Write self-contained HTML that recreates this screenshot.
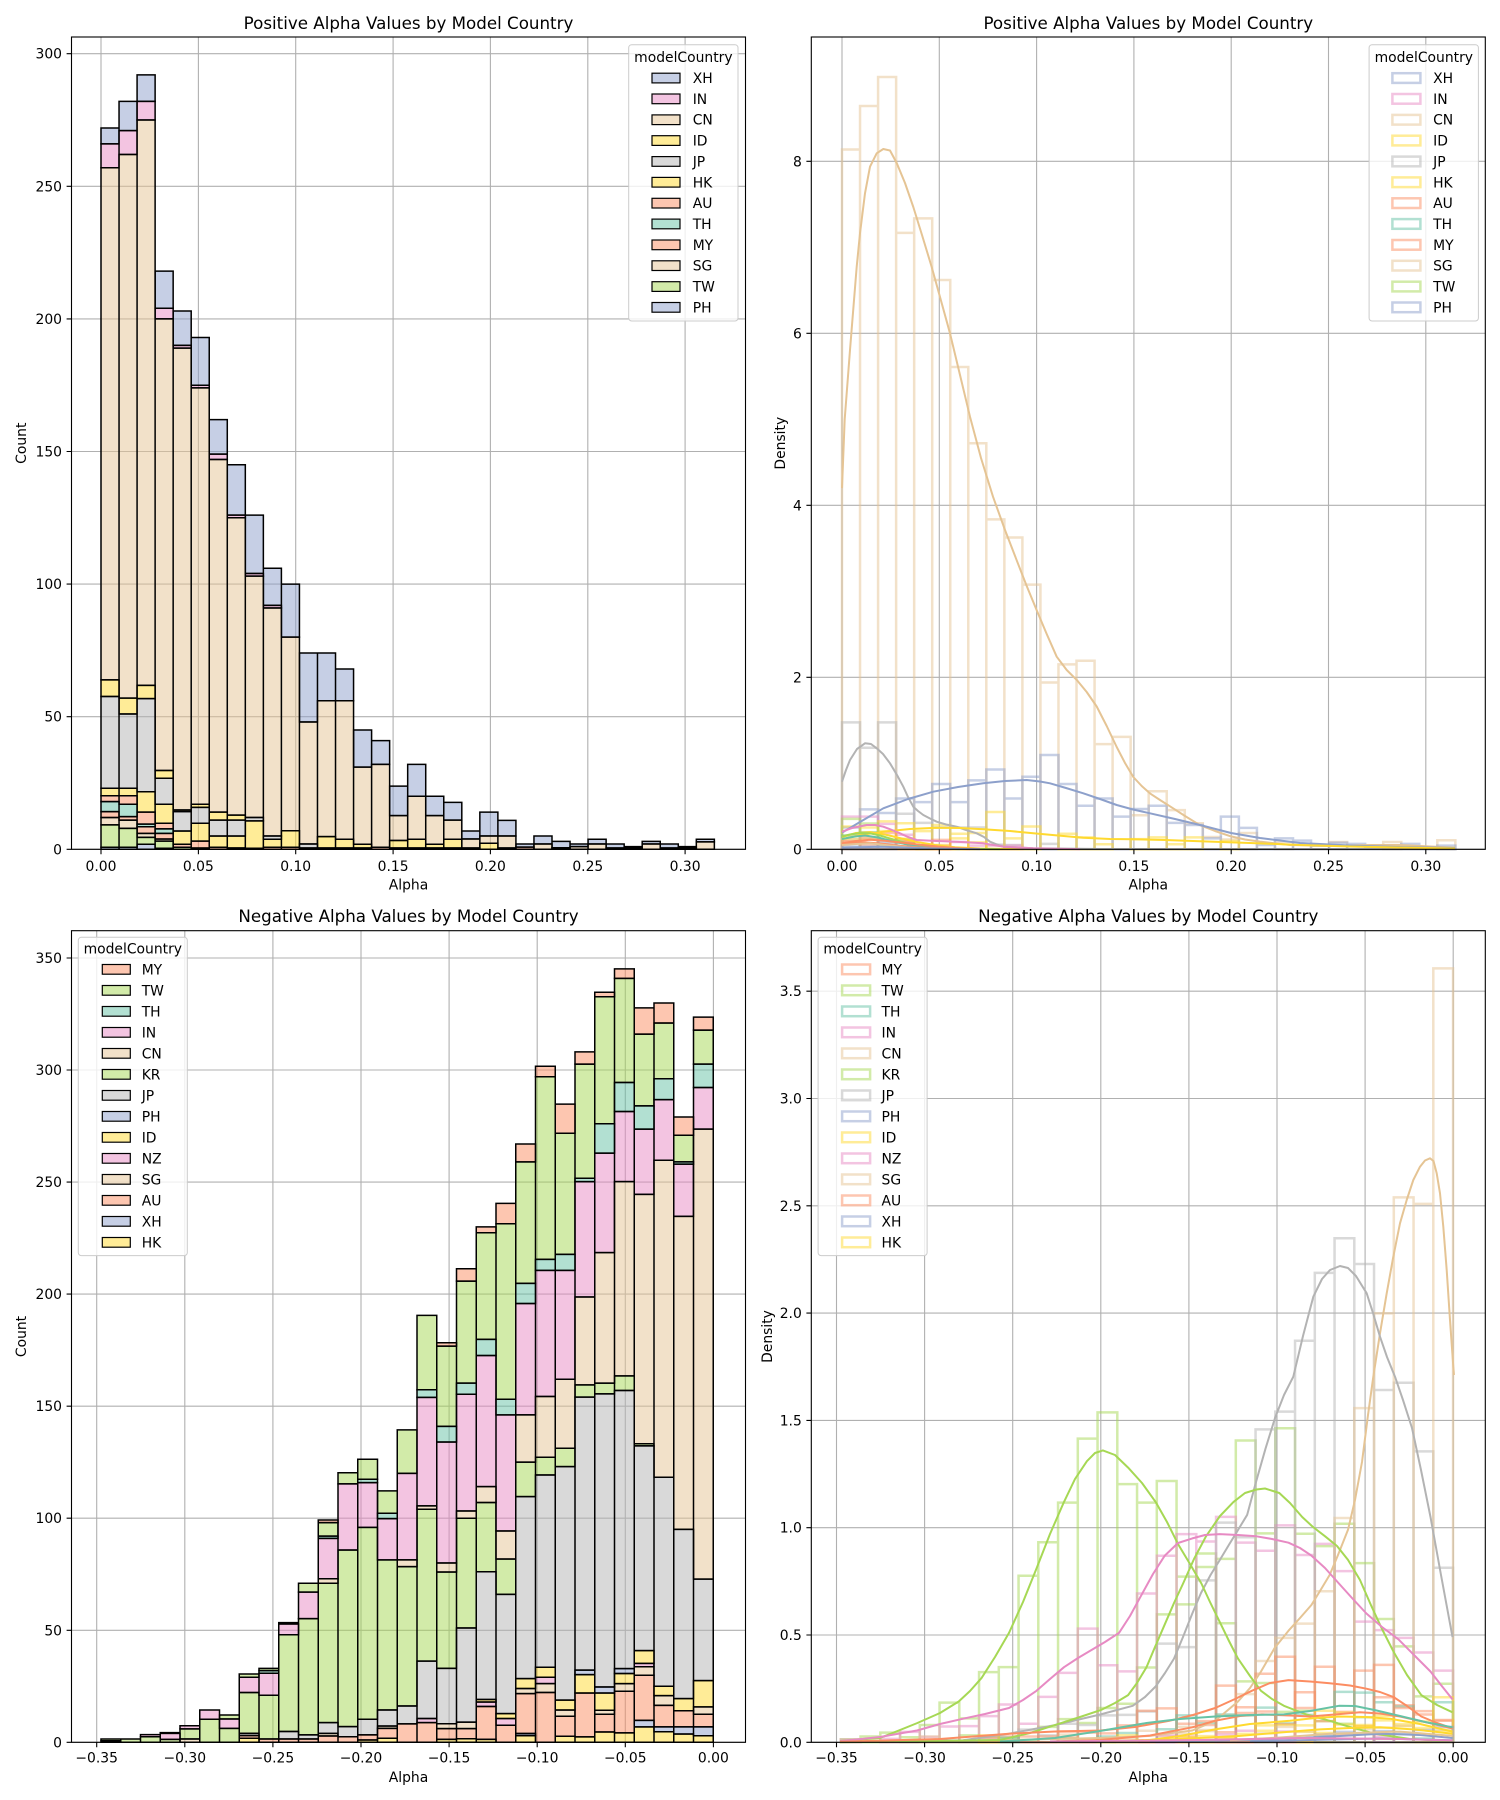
<!DOCTYPE html>
<html><head><meta charset="utf-8"><style>
html,body{margin:0;padding:0;background:#fff}
svg{display:block}
text{font-family:"DejaVu Sans","Liberation Sans",sans-serif;fill:#000}
.tk{font-size:13.9px}
.tt{font-size:16.7px}
.st path{stroke:#000;stroke-width:1.5px;fill-opacity:.5;vector-effect:non-scaling-stroke}
.ol path{fill:none;stroke-width:2.5px;stroke-opacity:.5;vector-effect:non-scaling-stroke}
.kd polyline{fill:none;stroke-width:2px;stroke-linejoin:round}
.gr{stroke:#b0b0b0;stroke-width:1.1px;fill:none}
.tm{stroke:#000;stroke-width:1.1px;fill:none}
.sp{stroke:#000;stroke-width:1.1px;fill:none}
.lg{fill:#fff;fill-opacity:.8;stroke:#cccccc;stroke-width:1}
.lp{fill-opacity:.5;stroke:#000;stroke-width:1.2}
.lo{fill:none;stroke-width:2.5;stroke-opacity:.5}
</style></head><body>
<svg width="1500" height="1800" viewBox="0 0 1500 1800" xmlns="http://www.w3.org/2000/svg">
<rect width="1500" height="1800" fill="#fff"/>

<!-- ================= TOP LEFT ================= -->
<path class="gr" d="M101 37V849.3M198.4 37V849.3M295.7 37V849.3M393.1 37V849.3M490.4 37V849.3M587.8 37V849.3M685.1 37V849.3M71.5 849.3H745.5M71.5 716.7H745.5M71.5 584.1H745.5M71.5 451.5H745.5M71.5 318.9H745.5M71.5 186.3H745.5M71.5 53.7H745.5"/>
<g class="st" transform="translate(101 849.3) scale(18.04 -2.652)">
<path fill="#8da0cb" d="M0 0h1v.75h-1z M0 266h1v6h-1z M1 0h1v.75h-1z M1 271h1v11h-1z M2 0h1v1.9h-1z M2 282h1v10h-1z M3 0h1v.4h-1z M3 204h1v14h-1z M4 190h1v13h-1z M5 0h1v.5h-1z M5 175h1v18h-1z M6 149h1v13h-1z M7 126h1v19h-1z M8 104h1v22h-1z M9 92h1v14h-1z M10 80h1v20h-1z M11 48h1v26h-1z M12 56h1v18h-1z M13 56h1v12h-1z M14 31h1v14h-1z M15 32h1v9h-1z M16 12.7h1v11.1h-1z M17 20h1v12h-1z M18 12.7h1v7.3h-1z M19 11h1v6.7h-1z M20 3.9h1v3h-1z M21 5h1v9h-1z M22 5h1v5.9h-1z M23 .8h1v1.2h-1z M24 2h1v3h-1z M25 .6h1v2.4h-1z M26 1h1v1h-1z M27 2h1v1.8h-1z M28 .5h1v1.5h-1z M29 .5h1v.5h-1z M30 2h1v1h-1z M31 .5h1v1.5h-1z M32 .5h1v.5h-1z M33 2.8h1v1h-1z"/>
<path fill="#e78ac3" d="M0 257h1v9h-1z M1 262h1v9h-1z M2 275h1v7h-1z M3 200h1v4h-1z M4 189h1v1h-1z M5 174h1v1h-1z M6 147h1v2h-1z M7 125h1v1h-1z M8 103h1v1h-1z M9 91h1v1h-1z"/>
<path fill="#e5c494" d="M0 9.2h1v2.8h-1z M0 63.9h1v193.1h-1z M1 7.9h1v3.1h-1z M1 57h1v205h-1z M2 4.5h1v1.5h-1z M2 61.8h1v213.2h-1z M3 3.1h1v.8h-1z M3 29.7h1v170.3h-1z M4 14.8h1v174.2h-1z M5 17h1v157h-1z M6 14h1v133h-1z M7 12.9h1v112.1h-1z M8 12h1v91h-1z M9 5h1v86h-1z M10 7h1v73h-1z M11 2h1v46h-1z M12 4.8h1v51.2h-1z M13 3.8h1v52.2h-1z M14 1.9h1v29.1h-1z M15 .75h1v31.25h-1z M16 3.3h1v9.4h-1z M17 3.8h1v16.2h-1z M18 1.9h1v10.8h-1z M19 3.8h1v7.2h-1z M20 .5h1v3.4h-1z M21 2.3h1v2.7h-1z M22 .5h1v4.5h-1z M24 0h1v2h-1z M26 0h1v1h-1z M27 0h1v2h-1z M30 0h1v2h-1z M33 0h1v2.8h-1z"/>
<path fill="#ffd92f" d="M0 20.2h1v2.8h-1z M0 57.6h1v6.3h-1z M1 20.2h1v2.8h-1z M1 51h1v6h-1z M2 14h1v7.7h-1z M2 56.8h1v5h-1z M3 9.8h1v7.2h-1z M3 26.8h1v2.9h-1z M4 1.9h1v5h-1z M4 14.2h1v.6h-1z M5 3.1h1v6.7h-1z M5 15.8h1v1.2h-1z M6 .75h1v4.25h-1z M6 11h1v3h-1z M7 .5h1v4.5h-1z M7 11h1v1.9h-1z M8 .4h1v10.3h-1z M9 .75h1v3.05h-1z M10 .75h1v6.25h-1z M12 .5h1v4.3h-1z M13 .5h1v3.3h-1z M14 .5h1v1.4h-1z M16 .5h1v2.8h-1z M17 .5h1v3.3h-1z M18 .5h1v1.4h-1z M19 .5h1v3.3h-1z M21 0h1v2.3h-1z"/>
<path fill="#b3b3b3" d="M0 23h1v34.6h-1z M1 23h1v28h-1z M2 21.7h1v35.1h-1z M3 17h1v9.8h-1z M4 6.9h1v7.3h-1z M5 9.8h1v6h-1z M6 5h1v6h-1z M7 5h1v6h-1z M8 10.7h1v1.3h-1z M9 3.8h1v1.2h-1z M11 .5h1v1.5h-1z"/>
<path fill="#fc8d62" d="M0 12h1v2.2h-1z M0 18h1v2.2h-1z M1 11h1v1.3h-1z M1 17h1v3.2h-1z M2 6h1v2.5h-1z M2 9.5h1v4.5h-1z M3 3.9h1v2.1h-1z M3 7.7h1v2.1h-1z M4 .75h1v1.15h-1z M5 .5h1v2.6h-1z M6 0h1v.75h-1z M7 0h1v.5h-1z M8 0h1v.4h-1z M9 0h1v.75h-1z M10 0h1v.75h-1z M11 0h1v.5h-1z M12 0h1v.5h-1z M13 0h1v.5h-1z M14 0h1v.5h-1z M15 0h1v.75h-1z M16 0h1v.5h-1z M17 0h1v.5h-1z M18 0h1v.5h-1z M19 0h1v.5h-1z M20 0h1v.5h-1z M22 0h1v.5h-1z M23 0h1v.8h-1z M25 0h1v.6h-1z M28 0h1v.5h-1z M29 0h1v.5h-1z M31 0h1v.5h-1z M32 0h1v.5h-1z"/>
<path fill="#66c2a5" d="M0 14.2h1v3.8h-1z M1 12.3h1v4.7h-1z M2 8.5h1v1h-1z M3 6h1v1.7h-1z"/>
<path fill="#a6d854" d="M0 .75h1v8.45h-1z M1 .75h1v7.15h-1z M2 1.9h1v2.6h-1z M3 .4h1v2.7h-1z M4 0h1v.75h-1z"/>
</g>
<path class="tm" d="M101 849.3v4.9M198.4 849.3v4.9M295.7 849.3v4.9M393.1 849.3v4.9M490.4 849.3v4.9M587.8 849.3v4.9M685.1 849.3v4.9M71.5 849.3h-4.9M71.5 716.7h-4.9M71.5 584.1h-4.9M71.5 451.5h-4.9M71.5 318.9h-4.9M71.5 186.3h-4.9M71.5 53.7h-4.9"/>
<rect class="sp" x="71.5" y="37" width="674" height="812.3"/>
<g class="tk" text-anchor="middle">
<text x="101" y="871">0.00</text><text x="198.4" y="871">0.05</text><text x="295.7" y="871">0.10</text><text x="393.1" y="871">0.15</text><text x="490.4" y="871">0.20</text><text x="587.8" y="871">0.25</text><text x="685.1" y="871">0.30</text>
</g>
<g class="tk" text-anchor="end">
<text x="62" y="854.3">0</text><text x="62" y="721.7">50</text><text x="62" y="589.1">100</text><text x="62" y="456.5">150</text><text x="62" y="323.9">200</text><text x="62" y="191.3">250</text><text x="62" y="58.7">300</text>
</g>
<text class="tk" x="408.5" y="889.5" text-anchor="middle">Alpha</text>
<text class="tk" transform="translate(26 443.2) rotate(-90)" text-anchor="middle">Count</text>
<text class="tt" x="408.5" y="29" text-anchor="middle">Positive Alpha Values by Model Country</text>
<!-- legend TL -->
<rect class="lg" x="628.7" y="44.7" width="109.3" height="276.3" rx="3"/>
<text class="tk" x="683.4" y="62" text-anchor="middle">modelCountry</text>
<g>
<rect class="lp" x="652" y="73.2" width="28" height="9.7" fill="#8da0cb"/>
<rect class="lp" x="652" y="94" width="28" height="9.7" fill="#e78ac3"/>
<rect class="lp" x="652" y="114.9" width="28" height="9.7" fill="#e5c494"/>
<rect class="lp" x="652" y="135.7" width="28" height="9.7" fill="#ffd92f"/>
<rect class="lp" x="652" y="156.6" width="28" height="9.7" fill="#b3b3b3"/>
<rect class="lp" x="652" y="177.4" width="28" height="9.7" fill="#ffd92f"/>
<rect class="lp" x="652" y="198.3" width="28" height="9.7" fill="#fc8d62"/>
<rect class="lp" x="652" y="219.1" width="28" height="9.7" fill="#66c2a5"/>
<rect class="lp" x="652" y="240" width="28" height="9.7" fill="#fc8d62"/>
<rect class="lp" x="652" y="260.8" width="28" height="9.7" fill="#e5c494"/>
<rect class="lp" x="652" y="281.7" width="28" height="9.7" fill="#a6d854"/>
<rect class="lp" x="652" y="302.5" width="28" height="9.7" fill="#8da0cb"/>
</g>
<g class="tk">
<text x="692.7" y="83">XH</text><text x="692.7" y="103.9">IN</text><text x="692.7" y="124.7">CN</text><text x="692.7" y="145.6">ID</text><text x="692.7" y="166.4">JP</text><text x="692.7" y="187.3">HK</text><text x="692.7" y="208.1">AU</text><text x="692.7" y="229">TH</text><text x="692.7" y="249.8">MY</text><text x="692.7" y="270.7">SG</text><text x="692.7" y="291.5">TW</text><text x="692.7" y="312.4">PH</text>
</g>

<!-- ================= TOP RIGHT ================= -->
<path class="gr" d="M842 37V849.3M939.3 37V849.3M1036.6 37V849.3M1133.9 37V849.3M1231.2 37V849.3M1328.5 37V849.3M1425.8 37V849.3M811.3 849.3H1485.3M811.3 677.3H1485.3M811.3 505.3H1485.3M811.3 333.3H1485.3M811.3 161.3H1485.3"/>
<g class="ol" transform="translate(842 849.3) scale(18.04 -3.626)">
<path stroke="#e5c494" d="M0 0h1v193h-1z M1 0h1v205h-1z M2 0h1v213h-1z M3 0h1v170h-1z M4 0h1v174h-1z M5 0h1v157h-1z M6 0h1v133h-1z M7 0h1v112h-1z M8 0h1v91h-1z M9 0h1v86h-1z M10 0h1v73h-1z M11 0h1v46h-1z M12 0h1v51h-1z M13 0h1v52h-1z M14 0h1v29h-1z M15 0h1v31h-1z M16 0h1v9.4h-1z M17 0h1v16h-1z M18 0h1v10.8h-1z M19 0h1v7.2h-1z M20 0h1v3.4h-1z M21 0h1v2.7h-1z M22 0h1v4.5h-1z M24 0h1v2h-1z M26 0h1v1h-1z M27 0h1v2h-1z M30 0h1v2h-1z M33 0h1v2.5h-1z"/>
<path stroke="#8da0cb" d="M0 0h1v6h-1z M1 0h1v11h-1z M2 0h1v10h-1z M3 0h1v14h-1z M4 0h1v13h-1z M5 0h1v18h-1z M6 0h1v13h-1z M7 0h1v19h-1z M8 0h1v22h-1z M9 0h1v14h-1z M10 0h1v20h-1z M11 0h1v26h-1z M12 0h1v18h-1z M13 0h1v12h-1z M14 0h1v14h-1z M15 0h1v9h-1z M16 0h1v11.1h-1z M17 0h1v12h-1z M18 0h1v7.3h-1z M19 0h1v6.7h-1z M20 0h1v3h-1z M21 0h1v9h-1z M22 0h1v5.9h-1z M23 0h1v1.2h-1z M24 0h1v3h-1z M25 0h1v2.4h-1z M26 0h1v1h-1z M27 0h1v1.8h-1z M28 0h1v1.5h-1z M29 0h1v.5h-1z M30 0h1v1h-1z M31 0h1v1.5h-1z M32 0h1v.5h-1z M33 0h1v1h-1z"/>
<path stroke="#b3b3b3" d="M0 0h1v35h-1z M1 0h1v28h-1z M2 0h1v35h-1z M3 0h1v9.8h-1z M4 0h1v7.3h-1z M5 0h1v6h-1z M6 0h1v6h-1z M7 0h1v6h-1z M8 0h1v1.3h-1z M9 0h1v1.2h-1z M11 0h1v1.5h-1z"/>
<path stroke="#e78ac3" d="M0 0h1v9h-1z M1 0h1v9h-1z M2 0h1v7h-1z M3 0h1v4h-1z M4 0h1v1h-1z M5 0h1v1h-1z M6 0h1v2h-1z M7 0h1v1h-1z M8 0h1v1h-1z M9 0h1v1h-1z"/>
<path stroke="#ffd92f" d="M0 0h1v2.8h-1z M1 0h1v2.8h-1z M2 0h1v7.7h-1z M3 0h1v7.2h-1z M4 0h1v5h-1z M5 0h1v6.7h-1z M6 0h1v4.3h-1z M7 0h1v4.5h-1z M8 0h1v10.3h-1z M9 0h1v3h-1z M10 0h1v6.3h-1z M12 0h1v4.3h-1z M13 0h1v3.3h-1z M14 0h1v1.4h-1z M16 0h1v2.8h-1z M17 0h1v3.3h-1z M18 0h1v1.4h-1z M19 0h1v3.3h-1z M21 0h1v2.3h-1z"/>
<path stroke="#ffd92f" d="M0 0h1v6.3h-1z M1 0h1v6h-1z M2 0h1v5h-1z M3 0h1v2.9h-1z M4 0h1v.6h-1z M5 0h1v1.2h-1z M6 0h1v3h-1z M7 0h1v1.9h-1z"/>
<path stroke="#a6d854" d="M0 0h1v8.4h-1z M1 0h1v7.1h-1z M2 0h1v2.6h-1z M3 0h1v2.7h-1z M4 0h1v.7h-1z"/>
<path stroke="#66c2a5" d="M0 0h1v3.8h-1z M1 0h1v4.7h-1z M2 0h1v1h-1z M3 0h1v1.7h-1z"/>
<path stroke="#fc8d62" d="M0 0h1v2.2h-1z M1 0h1v3.2h-1z M2 0h1v4.5h-1z M3 0h1v2.1h-1z M4 0h1v1.1h-1z M5 0h1v2.6h-1z"/>
<path stroke="#fc8d62" d="M0 0h1v2.2h-1z M1 0h1v1.3h-1z M2 0h1v2.5h-1z M3 0h1v2.1h-1z"/>
<path stroke="#e5c494" d="M0 0h1v2.8h-1z M1 0h1v3.1h-1z M2 0h1v1.5h-1z M3 0h1v.8h-1z"/>
<path stroke="#8da0cb" d="M0 0h1v.75h-1z M1 0h1v.75h-1z M2 0h1v1.9h-1z"/>
</g>
<g class="kd">
<polyline stroke="#e5c494" points="842,488.1 844.7,419.3 850,350 856.7,266.7 860,233.3 865,193.3 870,166.7 876.7,153.3 883.3,149 890,150.5 896.7,163 905,183 913.3,207 922,235 931.7,267 940,297 950,333.3 960,375 970,416.7 981,458 993,496.7 1005,530 1016.7,560.3 1026.7,586 1036.7,610.2 1046.7,634 1056.7,656.7 1066.7,670 1076.7,679.9 1086.7,692 1096.7,706.5 1106.7,726 1116.7,747 1125,763 1133.3,777 1141.7,786 1150,793.4 1160,800 1170,806.3 1185,816 1200,825.2 1215,831 1231,836.4 1245,839.5 1260,841.6 1290,845 1330,845.9 1370,845 1400,845 1430,846.5 1455,847.6"/>
<polyline stroke="#b3b3b3" points="842,781.7 846,770 850,760 857,749 865,743.3 871,744 876.7,748.3 883,754 890,763.3 897,775 903.3,786.7 908,797 913.3,806.7 918,811 923.3,815 930,818.5 936.7,821.7 946,824.5 956.7,826.7 966,830 976.7,833.3 984,837 990,841.7 997,844.5 1003.3,846.7 1033.3,848.3 1100,849 1455,849.3"/>
<polyline stroke="#8da0cb" points="842,832.7 860,822 883.3,808.3 908,799 933.3,791.7 958,787 983.3,783.3 1005,781 1026.7,780 1040,781.5 1050,783.3 1066,788 1083.3,793.3 1100,799 1116.7,805 1133,809.5 1150,813.3 1175,819 1200,825 1231,833 1260,838 1300,843 1350,845.5 1400,847 1455,848"/>
<polyline stroke="#ffd92f" points="842,839.3 860,835 883.3,831.7 910,829 936.7,827.7 960,828 983.3,829.3 1010,831 1033.3,833.3 1058,835.5 1083.3,837.7 1110,839 1133.3,839.3 1165,840 1200,841.3 1250,843 1300,845 1350,846.5 1400,847.5 1455,848.5"/>
<polyline stroke="#ffd92f" points="842,837 856,833 870,832.1 885,834.5 900,838.1 917,842 935,845 955,847.3 980,848.5 1020,849.2"/>
<polyline stroke="#e78ac3" points="842,831.7 852,828 866.7,825 875,825 883.3,826.7 892,830 900,833.3 908,837 916.7,840 936.7,841 956.7,841.7 983.3,843.3 1003.3,846.7 1033.3,848.3 1080,849.2"/>
<polyline stroke="#a6d854" points="842,836.4 850,834.5 860,833 870,833.3 880,835.5 895,840 910,844.1 925,846.5 940,847.6 970,848.8 1000,849.3"/>
<polyline stroke="#66c2a5" points="842,839 855,836.5 865,835.5 878,837.5 890,840.7 905,844 920,846.7 940,848.4 960,849.2"/>
<polyline stroke="#fc8d62" points="842,843.3 856,841 870,839.8 885,840.8 900,842.4 920,844.8 940,846.7 960,848.2 980,849"/>
<polyline stroke="#fc8d62" points="842,844.1 855,843 865,842.4 880,843.5 900,845.9 920,847.5 940,848.4 970,849.2"/>
<polyline stroke="#e5c494" points="842,845 856,844 870,843.3 890,845.5 910,847.6 935,848.8 960,849.3"/>
<polyline stroke="#8da0cb" points="842,847.6 880,846.7 930,848.4 980,849.2"/>
</g>
<path class="tm" d="M842 849.3v4.9M939.3 849.3v4.9M1036.6 849.3v4.9M1133.9 849.3v4.9M1231.2 849.3v4.9M1328.5 849.3v4.9M1425.8 849.3v4.9M811.3 849.3h-4.9M811.3 677.3h-4.9M811.3 505.3h-4.9M811.3 333.3h-4.9M811.3 161.3h-4.9"/>
<rect class="sp" x="811.3" y="37" width="674" height="812.3"/>
<g class="tk" text-anchor="middle">
<text x="842" y="871">0.00</text><text x="939.3" y="871">0.05</text><text x="1036.6" y="871">0.10</text><text x="1133.9" y="871">0.15</text><text x="1231.2" y="871">0.20</text><text x="1328.5" y="871">0.25</text><text x="1425.8" y="871">0.30</text>
</g>
<g class="tk" text-anchor="end">
<text x="801.8" y="854.3">0</text><text x="801.8" y="682.3">2</text><text x="801.8" y="510.3">4</text><text x="801.8" y="338.3">6</text><text x="801.8" y="166.3">8</text>
</g>
<text class="tk" x="1148.3" y="889.5" text-anchor="middle">Alpha</text>
<text class="tk" transform="translate(785 443.2) rotate(-90)" text-anchor="middle">Density</text>
<text class="tt" x="1148.3" y="29" text-anchor="middle">Positive Alpha Values by Model Country</text>
<rect class="lg" x="1369.1" y="44.7" width="109.3" height="276.3" rx="3"/>
<text class="tk" x="1423.8" y="62" text-anchor="middle">modelCountry</text>
<g>
<rect class="lo" x="1392.4" y="73.2" width="28" height="9.7" stroke="#8da0cb"/>
<rect class="lo" x="1392.4" y="94" width="28" height="9.7" stroke="#e78ac3"/>
<rect class="lo" x="1392.4" y="114.9" width="28" height="9.7" stroke="#e5c494"/>
<rect class="lo" x="1392.4" y="135.7" width="28" height="9.7" stroke="#ffd92f"/>
<rect class="lo" x="1392.4" y="156.6" width="28" height="9.7" stroke="#b3b3b3"/>
<rect class="lo" x="1392.4" y="177.4" width="28" height="9.7" stroke="#ffd92f"/>
<rect class="lo" x="1392.4" y="198.3" width="28" height="9.7" stroke="#fc8d62"/>
<rect class="lo" x="1392.4" y="219.1" width="28" height="9.7" stroke="#66c2a5"/>
<rect class="lo" x="1392.4" y="240" width="28" height="9.7" stroke="#fc8d62"/>
<rect class="lo" x="1392.4" y="260.8" width="28" height="9.7" stroke="#e5c494"/>
<rect class="lo" x="1392.4" y="281.7" width="28" height="9.7" stroke="#a6d854"/>
<rect class="lo" x="1392.4" y="302.5" width="28" height="9.7" stroke="#8da0cb"/>
</g>
<g class="tk">
<text x="1433.1" y="83">XH</text><text x="1433.1" y="103.9">IN</text><text x="1433.1" y="124.7">CN</text><text x="1433.1" y="145.6">ID</text><text x="1433.1" y="166.4">JP</text><text x="1433.1" y="187.3">HK</text><text x="1433.1" y="208.1">AU</text><text x="1433.1" y="229">TH</text><text x="1433.1" y="249.8">MY</text><text x="1433.1" y="270.7">SG</text><text x="1433.1" y="291.5">TW</text><text x="1433.1" y="312.4">PH</text>
</g>

<!-- ================= BOTTOM LEFT ================= -->
<path class="gr" d="M96.7 930.7V1742.3M184.8 930.7V1742.3M272.9 930.7V1742.3M361 930.7V1742.3M449.1 930.7V1742.3M537.2 930.7V1742.3M625.3 930.7V1742.3M713.4 930.7V1742.3M71.5 1742.3H745.5M71.5 1630.3H745.5M71.5 1518.2H745.5M71.5 1406.2H745.5M71.5 1294.1H745.5M71.5 1182.1H745.5M71.5 1070H745.5M71.5 958H745.5"/>
<g class="st" transform="translate(101 1742.3) scale(19.75 -2.241)">
<path fill="#a6d854" d="M0 .7h1v.8h-1z M1 0h1v1.5h-1z M2 0h1v2.5h-1z M3 0h1v1.3h-1z M3 4h1v.3h-1z M4 1.5h1v4.5h-1z M5 0h1v10.3h-1z M6 0h1v6.2h-1z M6 10.4h1v1.8h-1z M7 4h1v18.2h-1z M7 29h1v1.5h-1z M8 1.5h1v19.5h-1z M8 32h1v1h-1z M9 4.8h1v43.2h-1z M9 52.8h1v.6h-1z M10 3.3h1v51.9h-1z M10 67h1v4h-1z M11 8.8h1v62.2h-1z M11 92h1v6h-1z M12 7h1v78.8h-1z M12 115.3h1v5h-1z M13 10.3h1v85.6h-1z M13 117.4h1v8.9h-1z M14 14.4h1v67h-1z M14 102.2h1v10h-1z M15 16.2h1v62.2h-1z M15 120h1v19.4h-1z M16 36.2h1v67.8h-1z M16 157.3h1v33.2h-1z M17 33h1v43h-1z M17 141h1v35.8h-1z M18 51h1v49h-1z M18 160.3h1v45.5h-1z M19 76.1h1v30.9h-1z M19 179.8h1v47.6h-1z M20 66h1v15.8h-1z M20 153.1h1v78.3h-1z M21 109.6h1v15.4h-1z M21 204.8h1v54.2h-1z M22 119.3h1v7.9h-1z M22 215.5h1v81.5h-1z M23 123h1v8.2h-1z M23 217.7h1v54.1h-1z M24 154h1v5.5h-1z M24 251.7h1v50.9h-1z M25 155.5h1v4.8h-1z M25 276h1v56.7h-1z M26 157h1v6.5h-1z M26 294.4h1v46.5h-1z M27 132.3h1v.9h-1z M27 284h1v32h-1z M28 296.1h1v24.9h-1z M29 259h1v11.9h-1z M30 302.6h1v15.2h-1z"/>
<path fill="#e78ac3" d="M0 0h1v.7h-1z M2 2.5h1v.9h-1z M3 1.3h1v2.7h-1z M4 6h1v1.4h-1z M5 10.3h1v4.1h-1z M6 6.2h1v4.2h-1z M7 22.2h1v6.8h-1z M8 21h1v9.8h-1z M9 48h1v4.8h-1z M10 55.2h1v11.8h-1z M11 73h1v18h-1z M12 85.8h1v29.5h-1z M13 95.9h1v20h-1z M14 81.4h1v18.4h-1z M15 81.4h1v38.6h-1z M16 8.8h1v1.8h-1z M16 105.5h1v48.4h-1z M17 80h1v54h-1z M18 103.2h1v52.1h-1z M19 16h1v2h-1z M19 114.1h1v58.5h-1z M20 7.6h1v3h-1z M20 94.3h1v51.8h-1z M21 146.1h1v49.7h-1z M22 26.2h1v2.8h-1z M22 154.3h1v56.3h-1z M23 162h1v48.6h-1z M24 198.7h1v51.5h-1z M25 218.5h1v44.4h-1z M26 250.2h1v31.3h-1z M27 33.7h1v1.5h-1z M27 244.5h1v29.1h-1z M28 259.7h1v27.1h-1z M29 234.7h1v23.3h-1z M30 273.6h1v18.6h-1z"/>
<path fill="#e5c494" d="M4 0h1v1.5h-1z M11 2.8h1v1.2h-1z M11 71h1v2h-1z M14 6.2h1v1.1h-1z M15 78.4h1v3h-1z M16 104h1v1.5h-1z M17 6.1h1v2.2h-1z M17 76h1v4h-1z M18 6.1h1v2.9h-1z M18 100h1v3.2h-1z M19 107h1v7.1h-1z M20 81.8h1v12.5h-1z M21 21.7h1v2.3h-1z M21 125h1v21.1h-1z M22 22.2h1v4h-1z M22 127.2h1v27.1h-1z M23 11.6h1v2.8h-1z M23 131.2h1v30.8h-1z M24 159.5h1v39.2h-1z M25 12.5h1v1.8h-1z M25 160.3h1v58.2h-1z M26 22.8h1v3.4h-1z M26 163.5h1v86.7h-1z M27 29.9h1v3.8h-1z M27 133.2h1v111.3h-1z M28 16.5h1v4.3h-1z M28 118.3h1v141.4h-1z M29 95h1v139.7h-1z M30 12.5h1v3.3h-1z M30 72.8h1v200.8h-1z"/>
<path fill="#b3b3b3" d="M7 3h1v1h-1z M9 1.5h1v3.3h-1z M10 1.5h1v1.8h-1z M11 4h1v4.8h-1z M12 2.5h1v4.5h-1z M13 3.3h1v7h-1z M14 7.3h1v7.1h-1z M15 8.2h1v8h-1z M16 10.6h1v25.6h-1z M17 8.3h1v24.7h-1z M18 9h1v42h-1z M19 19.1h1v57h-1z M20 12.8h1v53.2h-1z M21 28.4h1v81.2h-1z M22 33.5h1v85.8h-1z M23 18.8h1v104.2h-1z M24 32.2h1v121.8h-1z M25 24.7h1v130.8h-1z M26 32.9h1v124.1h-1z M27 40.9h1v91.4h-1z M28 25h1v93.3h-1z M29 19.5h1v75.5h-1z M30 27.5h1v45.3h-1z"/>
<path fill="#66c2a5" d="M8 30.8h1v1.2h-1z M11 91h1v1h-1z M13 115.9h1v1.5h-1z M14 99.8h1v2.4h-1z M16 153.9h1v3.4h-1z M17 134h1v7h-1z M18 155.3h1v5h-1z M19 172.6h1v7.2h-1z M20 146.1h1v7h-1z M21 195.8h1v9h-1z M22 210.6h1v4.9h-1z M23 210.6h1v7.1h-1z M24 250.2h1v1.5h-1z M25 262.9h1v13.1h-1z M26 281.5h1v12.9h-1z M27 273.6h1v10.4h-1z M28 286.8h1v9.3h-1z M29 258h1v1h-1z M30 292.2h1v10.4h-1z"/>
<path fill="#fc8d62" d="M7 1.8h1v1.2h-1z M8 0h1v1.5h-1z M9 0h1v1.5h-1z M10 0h1v1.5h-1z M11 0h1v2.8h-1z M11 98h1v1.2h-1z M12 0h1v2.5h-1z M13 1h1v2.3h-1z M14 1.8h1v4.4h-1z M15 0h1v8.2h-1z M16 0h1v8.8h-1z M17 1.3h1v4.8h-1z M17 176.8h1v1.5h-1z M18 1.6h1v4.5h-1z M18 205.8h1v5.5h-1z M19 1.3h1v14.7h-1z M19 227.4h1v2.6h-1z M20 0h1v7.6h-1z M20 231.4h1v9.1h-1z M21 3.9h1v17.8h-1z M21 259h1v8h-1z M22 0h1v22.2h-1z M22 297h1v4.7h-1z M23 2.7h1v8.9h-1z M23 271.8h1v13h-1z M24 2.4h1v19.6h-1z M24 302.6h1v5.5h-1z M25 4.6h1v7.9h-1z M25 332.7h1v2h-1z M26 4.2h1v18.6h-1z M26 340.9h1v4.2h-1z M27 9.8h1v20.1h-1z M27 316h1v11.7h-1z M28 6.9h1v9.6h-1z M28 321h1v8.9h-1z M29 6.9h1v7.2h-1z M29 270.9h1v8.1h-1z M30 6.9h1v5.6h-1z M30 317.8h1v5.8h-1z"/>
<path fill="#ffd92f" d="M7 0h1v1.8h-1z M13 0h1v1h-1z M14 0h1v1.8h-1z M17 0h1v1.3h-1z M18 0h1v1.6h-1z M19 0h1v1.3h-1z M19 18h1v1.1h-1z M20 10.6h1v2.2h-1z M21 0h1v3h-1z M21 24h1v4.4h-1z M22 29h1v4.5h-1z M23 0h1v2.7h-1z M23 14.4h1v4.4h-1z M24 0h1v2.4h-1z M24 22h1v8.2h-1z M25 0h1v4.6h-1z M25 14.3h1v7.7h-1z M26 0h1v4.2h-1z M26 26.2h1v4.5h-1z M27 0h1v6.9h-1z M27 35.2h1v5.7h-1z M28 0h1v4.7h-1z M28 20.8h1v4.2h-1z M29 0h1v3.7h-1z M29 14.1h1v5.4h-1z M30 0h1v2.9h-1z M30 15.8h1v11.7h-1z"/>
<path fill="#8da0cb" d="M21 3h1v.9h-1z M24 30.2h1v2h-1z M25 22h1v2.7h-1z M26 30.7h1v2.2h-1z M27 6.9h1v2.9h-1z M28 4.7h1v2.2h-1z M29 3.7h1v3.2h-1z M30 2.9h1v4h-1z"/>
</g>
<path class="tm" d="M96.7 1742.3v4.9M184.8 1742.3v4.9M272.9 1742.3v4.9M361 1742.3v4.9M449.1 1742.3v4.9M537.2 1742.3v4.9M625.3 1742.3v4.9M713.4 1742.3v4.9M71.5 1742.3h-4.9M71.5 1630.3h-4.9M71.5 1518.2h-4.9M71.5 1406.2h-4.9M71.5 1294.1h-4.9M71.5 1182.1h-4.9M71.5 1070h-4.9M71.5 958h-4.9"/>
<rect class="sp" x="71.5" y="930.7" width="674" height="811.6"/>
<g class="tk" text-anchor="middle">
<text x="96.7" y="1762.5">−0.35</text><text x="184.8" y="1762.5">−0.30</text><text x="272.9" y="1762.5">−0.25</text><text x="361" y="1762.5">−0.20</text><text x="449.1" y="1762.5">−0.15</text><text x="537.2" y="1762.5">−0.10</text><text x="625.3" y="1762.5">−0.05</text><text x="713.4" y="1762.5">0.00</text>
</g>
<g class="tk" text-anchor="end">
<text x="62" y="1747.3">0</text><text x="62" y="1635.3">50</text><text x="62" y="1523.2">100</text><text x="62" y="1411.2">150</text><text x="62" y="1299.1">200</text><text x="62" y="1187.1">250</text><text x="62" y="1075">300</text><text x="62" y="963">350</text>
</g>
<text class="tk" x="408.5" y="1782" text-anchor="middle">Alpha</text>
<text class="tk" transform="translate(26 1336.5) rotate(-90)" text-anchor="middle">Count</text>
<text class="tt" x="408.5" y="922" text-anchor="middle">Negative Alpha Values by Model Country</text>
<rect class="lg" x="78.3" y="937.3" width="109" height="318.3" rx="3"/>
<text class="tk" x="132.8" y="953.3" text-anchor="middle">modelCountry</text>
<g>
<rect class="lp" x="102.3" y="964.5" width="28" height="9.7" fill="#fc8d62"/>
<rect class="lp" x="102.3" y="985.5" width="28" height="9.7" fill="#a6d854"/>
<rect class="lp" x="102.3" y="1006.5" width="28" height="9.7" fill="#66c2a5"/>
<rect class="lp" x="102.3" y="1027.5" width="28" height="9.7" fill="#e78ac3"/>
<rect class="lp" x="102.3" y="1048.5" width="28" height="9.7" fill="#e5c494"/>
<rect class="lp" x="102.3" y="1069.5" width="28" height="9.7" fill="#a6d854"/>
<rect class="lp" x="102.3" y="1090.5" width="28" height="9.7" fill="#b3b3b3"/>
<rect class="lp" x="102.3" y="1111.5" width="28" height="9.7" fill="#8da0cb"/>
<rect class="lp" x="102.3" y="1132.5" width="28" height="9.7" fill="#ffd92f"/>
<rect class="lp" x="102.3" y="1153.5" width="28" height="9.7" fill="#e78ac3"/>
<rect class="lp" x="102.3" y="1174.5" width="28" height="9.7" fill="#e5c494"/>
<rect class="lp" x="102.3" y="1195.5" width="28" height="9.7" fill="#fc8d62"/>
<rect class="lp" x="102.3" y="1216.5" width="28" height="9.7" fill="#8da0cb"/>
<rect class="lp" x="102.3" y="1237.5" width="28" height="9.7" fill="#ffd92f"/>
</g>
<g class="tk">
<text x="141.7" y="974.3">MY</text><text x="141.7" y="995.3">TW</text><text x="141.7" y="1016.3">TH</text><text x="141.7" y="1037.3">IN</text><text x="141.7" y="1058.3">CN</text><text x="141.7" y="1079.3">KR</text><text x="141.7" y="1100.3">JP</text><text x="141.7" y="1121.3">PH</text><text x="141.7" y="1142.3">ID</text><text x="141.7" y="1163.3">NZ</text><text x="141.7" y="1184.3">SG</text><text x="141.7" y="1205.3">AU</text><text x="141.7" y="1226.3">XH</text><text x="141.7" y="1247.3">HK</text>
</g>

<!-- ================= BOTTOM RIGHT ================= -->
<path class="gr" d="M836.5 930.7V1742.3M924.6 930.7V1742.3M1012.7 930.7V1742.3M1100.8 930.7V1742.3M1188.9 930.7V1742.3M1277 930.7V1742.3M1365.1 930.7V1742.3M1453.2 930.7V1742.3M811.3 1742.3H1485.3M811.3 1635H1485.3M811.3 1527.7H1485.3M811.3 1420.4H1485.3M811.3 1313.1H1485.3M811.3 1205.8H1485.3M811.3 1098.5H1485.3M811.3 991.2H1485.3"/>
<g class="ol" transform="translate(840.8 1742.3) scale(19.75 -3.854)">
<path stroke="#a6d854" d="M0 0h1v.8h-1z M1 0h1v1.5h-1z M2 0h1v2.5h-1z M3 0h1v1.3h-1z M4 0h1v4.5h-1z M5 0h1v10.3h-1z M6 0h1v6.2h-1z M7 0h1v18.2h-1z M8 0h1v19.5h-1z M9 0h1v43.2h-1z M10 0h1v51.9h-1z M11 0h1v62.2h-1z M12 0h1v78.8h-1z M13 0h1v85.6h-1z M14 0h1v67h-1z M15 0h1v62.2h-1z M16 0h1v67.8h-1z M17 0h1v43h-1z M18 0h1v49h-1z M19 0h1v30.9h-1z M20 0h1v15.8h-1z M21 0h1v15.4h-1z M22 0h1v7.9h-1z M23 0h1v8.2h-1z M24 0h1v5.5h-1z M25 0h1v4.8h-1z M26 0h1v6.5h-1z M27 0h1v.9h-1z"/>
<path stroke="#a6d854" d="M3 0h1v.3h-1z M6 0h1v1.8h-1z M7 0h1v1.5h-1z M8 0h1v1h-1z M9 0h1v.6h-1z M10 0h1v4h-1z M11 0h1v6h-1z M12 0h1v5h-1z M13 0h1v8.9h-1z M14 0h1v10h-1z M15 0h1v19.4h-1z M16 0h1v33.2h-1z M17 0h1v35.8h-1z M18 0h1v45.5h-1z M19 0h1v47.6h-1z M20 0h1v78.3h-1z M21 0h1v54.2h-1z M22 0h1v81.5h-1z M23 0h1v54.1h-1z M24 0h1v50.9h-1z M25 0h1v56.7h-1z M26 0h1v46.5h-1z M27 0h1v32h-1z M28 0h1v24.9h-1z M29 0h1v11.9h-1z M30 0h1v15.2h-1z"/>
<path stroke="#e78ac3" d="M2 0h1v.9h-1z M3 0h1v2.7h-1z M4 0h1v1.4h-1z M5 0h1v4.1h-1z M6 0h1v4.2h-1z M7 0h1v6.8h-1z M8 0h1v9.8h-1z M9 0h1v4.8h-1z M10 0h1v11.8h-1z M11 0h1v18h-1z M12 0h1v29.5h-1z M13 0h1v20h-1z M14 0h1v18.4h-1z M15 0h1v38.6h-1z M16 0h1v48.4h-1z M17 0h1v54h-1z M18 0h1v52.1h-1z M19 0h1v58.5h-1z M20 0h1v51.8h-1z M21 0h1v49.7h-1z M22 0h1v56.3h-1z M23 0h1v48.6h-1z M24 0h1v51.5h-1z M25 0h1v44.4h-1z M26 0h1v31.3h-1z M27 0h1v29.1h-1z M28 0h1v27.1h-1z M29 0h1v23.3h-1z M30 0h1v18.6h-1z"/>
<path stroke="#b3b3b3" d="M7 0h1v1h-1z M9 0h1v3.3h-1z M10 0h1v1.8h-1z M11 0h1v4.8h-1z M12 0h1v4.5h-1z M13 0h1v7h-1z M14 0h1v7.1h-1z M15 0h1v8h-1z M16 0h1v25.6h-1z M17 0h1v24.7h-1z M18 0h1v42h-1z M19 0h1v57h-1z M20 0h1v53.2h-1z M21 0h1v81.2h-1z M22 0h1v85.8h-1z M23 0h1v104.2h-1z M24 0h1v121.8h-1z M25 0h1v130.8h-1z M26 0h1v124.1h-1z M27 0h1v91.4h-1z M28 0h1v93.3h-1z M29 0h1v75.5h-1z M30 0h1v45.3h-1z"/>
<path stroke="#e5c494" d="M11 0h1v2h-1z M15 0h1v3h-1z M16 0h1v1.5h-1z M17 0h1v4h-1z M18 0h1v3.2h-1z M19 0h1v7.1h-1z M20 0h1v12.5h-1z M21 0h1v21.1h-1z M22 0h1v27.1h-1z M23 0h1v30.8h-1z M24 0h1v39.2h-1z M25 0h1v58.2h-1z M26 0h1v86.7h-1z M27 0h1v111.3h-1z M28 0h1v141.4h-1z M29 0h1v139.7h-1z M30 0h1v200.8h-1z"/>
<path stroke="#fc8d62" d="M7 0h1v1.2h-1z M8 0h1v1.5h-1z M9 0h1v1.5h-1z M10 0h1v1.5h-1z M11 0h1v2.8h-1z M12 0h1v2.5h-1z M13 0h1v2.3h-1z M14 0h1v4.4h-1z M15 0h1v8.2h-1z M16 0h1v8.8h-1z M17 0h1v4.8h-1z M18 0h1v4.5h-1z M19 0h1v14.7h-1z M20 0h1v7.6h-1z M21 0h1v17.8h-1z M22 0h1v22.2h-1z M23 0h1v8.9h-1z M24 0h1v19.6h-1z M25 0h1v7.9h-1z M26 0h1v18.6h-1z M27 0h1v20.1h-1z M28 0h1v9.6h-1z M29 0h1v7.2h-1z M30 0h1v5.6h-1z"/>
<path stroke="#66c2a5" d="M8 0h1v1.2h-1z M11 0h1v1h-1z M13 0h1v1.5h-1z M14 0h1v2.4h-1z M16 0h1v3.4h-1z M17 0h1v7h-1z M18 0h1v5h-1z M19 0h1v7.2h-1z M20 0h1v7h-1z M21 0h1v9h-1z M22 0h1v4.9h-1z M23 0h1v7.1h-1z M24 0h1v1.5h-1z M25 0h1v13.1h-1z M26 0h1v12.9h-1z M27 0h1v10.4h-1z M28 0h1v9.3h-1z M29 0h1v1h-1z M30 0h1v10.4h-1z"/>
<path stroke="#fc8d62" d="M11 0h1v1.2h-1z M17 0h1v1.5h-1z M18 0h1v5.5h-1z M19 0h1v2.6h-1z M20 0h1v9.1h-1z M21 0h1v8h-1z M22 0h1v4.7h-1z M23 0h1v13h-1z M24 0h1v5.5h-1z M25 0h1v2h-1z M26 0h1v4.2h-1z M27 0h1v11.7h-1z M28 0h1v8.9h-1z M29 0h1v8.1h-1z M30 0h1v5.8h-1z"/>
<path stroke="#ffd92f" d="M7 0h1v1.8h-1z M13 0h1v1h-1z M14 0h1v1.8h-1z M17 0h1v1.3h-1z M18 0h1v1.6h-1z M19 0h1v1.3h-1z M21 0h1v3h-1z M23 0h1v2.7h-1z M24 0h1v2.4h-1z M25 0h1v4.6h-1z M26 0h1v4.2h-1z M27 0h1v6.9h-1z M28 0h1v4.7h-1z M29 0h1v3.7h-1z M30 0h1v2.9h-1z"/>
<path stroke="#ffd92f" d="M19 0h1v1.1h-1z M20 0h1v2.2h-1z M21 0h1v4.4h-1z M22 0h1v4.5h-1z M23 0h1v4.4h-1z M24 0h1v8.2h-1z M25 0h1v7.7h-1z M26 0h1v4.5h-1z M27 0h1v5.7h-1z M28 0h1v4.2h-1z M29 0h1v5.4h-1z M30 0h1v11.7h-1z"/>
<path stroke="#e5c494" d="M4 0h1v1.5h-1z M11 0h1v1.2h-1z M14 0h1v1.1h-1z M17 0h1v2.2h-1z M18 0h1v2.9h-1z M21 0h1v2.3h-1z M22 0h1v4h-1z M23 0h1v2.8h-1z M25 0h1v1.8h-1z M26 0h1v3.4h-1z M27 0h1v3.8h-1z M28 0h1v4.3h-1z M30 0h1v3.3h-1z"/>
<path stroke="#e78ac3" d="M0 0h1v.7h-1z M16 0h1v1.8h-1z M19 0h1v2h-1z M20 0h1v3h-1z M22 0h1v2.8h-1z M27 0h1v1.5h-1z"/>
<path stroke="#8da0cb" d="M24 0h1v2h-1z M25 0h1v2.7h-1z M26 0h1v2.2h-1z M21 0h1v.9h-1z M27 0h1v2.9h-1z M28 0h1v2.2h-1z M29 0h1v3.2h-1z M30 0h1v4h-1z"/>
</g>
<g class="kd">
<polyline stroke="#e5c494" points="840,1741.5 1000,1740.3 1100,1738 1150,1735.9 1192.3,1730.5 1215.2,1720.8 1238,1701.5 1250,1688 1261,1671.5 1274.7,1647.9 1288.5,1630.7 1300,1618 1311.4,1605 1320,1591 1329.7,1574.9 1338,1555 1348,1529.8 1355,1500 1362,1462 1368,1415 1373.3,1376.7 1380,1333.3 1386.7,1293.3 1393.3,1256.7 1400,1223.3 1406.7,1200 1413.3,1180 1420,1166.7 1425,1160.5 1430,1158.3 1433.5,1161 1436.7,1173.3 1440,1193.3 1443.3,1226.7 1446.7,1270 1450,1320 1453.3,1366.7 1454,1375"/>
<polyline stroke="#b3b3b3" points="840,1742 963,1740.2 1009,1733.7 1054.9,1725.1 1100.7,1714.4 1132.7,1705.8 1145,1697 1155.6,1686.5 1165,1673 1174,1658.6 1183,1637 1192.3,1613.5 1201,1593 1210.6,1574.9 1219.8,1560 1228.9,1544.9 1238,1530 1247.2,1514.8 1256,1482 1265.6,1448.3 1275,1418 1284,1395 1293.3,1376.7 1303,1336 1313.3,1296.7 1322,1279 1330,1270 1340,1266 1348,1268 1356,1276 1366.7,1293.3 1373,1313 1380,1336.7 1387,1357 1395,1376.7 1403,1400 1412,1428 1421,1470 1430.5,1517 1441,1575 1452.5,1637.1"/>
<polyline stroke="#a6d854" points="840,1741 880,1738 917.4,1723 940,1713 958.7,1701.5 970,1691 981.6,1677.9 995,1657 1009,1632.9 1023,1602 1036.5,1568.5 1050,1534 1064,1501.9 1075,1479 1086.9,1461.2 1095,1453 1102.9,1450.4 1115,1455 1128.1,1467.6 1142,1483 1155.6,1501.9 1167,1522 1178.5,1544.9 1190,1564 1201.4,1583.5 1210,1602 1219.8,1622.1 1229,1641 1238,1658.6 1250,1676 1261,1690.8 1272,1699 1283.9,1705.8 1305,1714 1329.7,1720.8 1350,1727 1375,1733.7 1410,1739 1452.5,1741.2"/>
<polyline stroke="#a6d854" points="840,1742.3 1000,1740 1030,1733 1054.9,1725.1 1080,1717 1100.7,1710.1 1115,1703 1128.1,1695.1 1137,1683 1146.5,1667.2 1155,1647 1164.8,1624.3 1174,1603 1183.1,1583.5 1194,1559 1206,1536.3 1220,1516 1233.5,1501.9 1245,1493 1256.4,1489.5 1265,1488.5 1279.3,1493 1290,1503 1302.2,1517 1313,1527 1325.1,1536.3 1337,1546 1348,1559.9 1360,1580 1370.9,1605 1382,1629 1393.8,1652.2 1407,1675 1421.3,1695.1 1437,1705 1452.5,1712.3"/>
<polyline stroke="#e78ac3" points="840,1741.2 880,1737 917,1730.5 940,1724 963.2,1718.7 985,1714 1009,1708 1023,1700 1036.5,1690.8 1050,1679 1064,1667.2 1078,1658 1091.5,1650 1105,1642 1119,1632.9 1130,1616 1141.9,1594.2 1153,1574 1164.8,1555.6 1178,1543 1192.3,1538.4 1205,1535 1219.8,1534.1 1238,1535 1256.4,1536.3 1272,1539 1288.5,1542.7 1300,1548 1311.4,1555.6 1325,1568 1338.9,1583.5 1352,1598 1366.4,1613.5 1382,1627 1398.4,1639.3 1414,1655 1430.5,1671.5 1441,1685 1452.5,1699.4"/>
<polyline stroke="#fc8d62" points="840,1741.8 940,1739 1009,1733.7 1055,1731.5 1100.7,1730.5 1135,1727 1169.4,1720.8 1193,1715 1215.2,1708 1235,1699 1251.8,1690.8 1270,1683 1288.5,1680.1 1310,1681.5 1329.7,1683.3 1350,1685.5 1366.4,1688.7 1380,1692 1393.8,1697.2 1407,1706 1421.3,1716.5 1437,1723 1452.5,1728.4"/>
<polyline stroke="#fc8d62" points="1050,1741.5 1100,1740 1150,1735.5 1192.3,1727.3 1215,1720.8 1240,1716 1262,1714.4 1290,1715.5 1310,1716.5 1335,1714.5 1360,1712.3 1380,1713.5 1400,1716.5 1425,1722 1452.5,1728.4"/>
<polyline stroke="#66c2a5" points="1000,1741.5 1054.9,1738 1100,1731 1146.5,1723 1180,1719 1215.2,1716.5 1250,1715 1283.9,1714.4 1310,1711 1338.9,1705.8 1355,1706 1375,1710.1 1400,1716 1425,1722 1452.5,1727.3"/>
<polyline stroke="#ffd92f" points="1150,1740 1180,1736 1215,1729.4 1250,1724 1290,1720.8 1315,1718 1340,1716.5 1365,1717 1390,1718.7 1420,1724 1452.5,1731.6"/>
<polyline stroke="#ffd92f" points="1100,1741.3 1180,1739 1240,1735.9 1280,1732.5 1320,1729.4 1350,1728 1380,1727.3 1415,1729.5 1452.5,1733.7"/>
<polyline stroke="#8da0cb" points="1150,1741.8 1250,1740 1300,1738 1340,1736 1380,1733.7 1420,1735 1452.5,1738"/>
<polyline stroke="#8da0cb" points="1250,1741.5 1330,1739.5 1380,1738.5 1452.5,1740.3"/>
<polyline stroke="#e5c494" points="1230,1740.2 1280,1737.5 1330,1733.7 1400,1731.6 1452.5,1735.9"/>
<polyline stroke="#e78ac3" points="1050,1741.5 1200,1740 1300,1738 1400,1739 1452.5,1740.5"/>
</g>
<path class="tm" d="M836.5 1742.3v4.9M924.6 1742.3v4.9M1012.7 1742.3v4.9M1100.8 1742.3v4.9M1188.9 1742.3v4.9M1277 1742.3v4.9M1365.1 1742.3v4.9M1453.2 1742.3v4.9M811.3 1742.3h-4.9M811.3 1635h-4.9M811.3 1527.7h-4.9M811.3 1420.4h-4.9M811.3 1313.1h-4.9M811.3 1205.8h-4.9M811.3 1098.5h-4.9M811.3 991.2h-4.9"/>
<rect class="sp" x="811.3" y="930.7" width="674" height="811.6"/>
<g class="tk" text-anchor="middle">
<text x="836.5" y="1762.5">−0.35</text><text x="924.6" y="1762.5">−0.30</text><text x="1012.7" y="1762.5">−0.25</text><text x="1100.8" y="1762.5">−0.20</text><text x="1188.9" y="1762.5">−0.15</text><text x="1277" y="1762.5">−0.10</text><text x="1365.1" y="1762.5">−0.05</text><text x="1453.2" y="1762.5">0.00</text>
</g>
<g class="tk" text-anchor="end">
<text x="801.8" y="1747.3">0.0</text><text x="801.8" y="1640">0.5</text><text x="801.8" y="1532.7">1.0</text><text x="801.8" y="1425.4">1.5</text><text x="801.8" y="1318.1">2.0</text><text x="801.8" y="1210.8">2.5</text><text x="801.8" y="1103.5">3.0</text><text x="801.8" y="996.2">3.5</text>
</g>
<text class="tk" x="1148.3" y="1782" text-anchor="middle">Alpha</text>
<text class="tk" transform="translate(772 1336.5) rotate(-90)" text-anchor="middle">Density</text>
<text class="tt" x="1148.3" y="922" text-anchor="middle">Negative Alpha Values by Model Country</text>
<rect class="lg" x="818.1" y="937.3" width="109" height="318.3" rx="3"/>
<text class="tk" x="872.6" y="953.3" text-anchor="middle">modelCountry</text>
<g>
<rect class="lo" x="842.1" y="964.5" width="28" height="9.7" stroke="#fc8d62"/>
<rect class="lo" x="842.1" y="985.5" width="28" height="9.7" stroke="#a6d854"/>
<rect class="lo" x="842.1" y="1006.5" width="28" height="9.7" stroke="#66c2a5"/>
<rect class="lo" x="842.1" y="1027.5" width="28" height="9.7" stroke="#e78ac3"/>
<rect class="lo" x="842.1" y="1048.5" width="28" height="9.7" stroke="#e5c494"/>
<rect class="lo" x="842.1" y="1069.5" width="28" height="9.7" stroke="#a6d854"/>
<rect class="lo" x="842.1" y="1090.5" width="28" height="9.7" stroke="#b3b3b3"/>
<rect class="lo" x="842.1" y="1111.5" width="28" height="9.7" stroke="#8da0cb"/>
<rect class="lo" x="842.1" y="1132.5" width="28" height="9.7" stroke="#ffd92f"/>
<rect class="lo" x="842.1" y="1153.5" width="28" height="9.7" stroke="#e78ac3"/>
<rect class="lo" x="842.1" y="1174.5" width="28" height="9.7" stroke="#e5c494"/>
<rect class="lo" x="842.1" y="1195.5" width="28" height="9.7" stroke="#fc8d62"/>
<rect class="lo" x="842.1" y="1216.5" width="28" height="9.7" stroke="#8da0cb"/>
<rect class="lo" x="842.1" y="1237.5" width="28" height="9.7" stroke="#ffd92f"/>
</g>
<g class="tk">
<text x="881.5" y="974.3">MY</text><text x="881.5" y="995.3">TW</text><text x="881.5" y="1016.3">TH</text><text x="881.5" y="1037.3">IN</text><text x="881.5" y="1058.3">CN</text><text x="881.5" y="1079.3">KR</text><text x="881.5" y="1100.3">JP</text><text x="881.5" y="1121.3">PH</text><text x="881.5" y="1142.3">ID</text><text x="881.5" y="1163.3">NZ</text><text x="881.5" y="1184.3">SG</text><text x="881.5" y="1205.3">AU</text><text x="881.5" y="1226.3">XH</text><text x="881.5" y="1247.3">HK</text>
</g>
</svg>
</body></html>
